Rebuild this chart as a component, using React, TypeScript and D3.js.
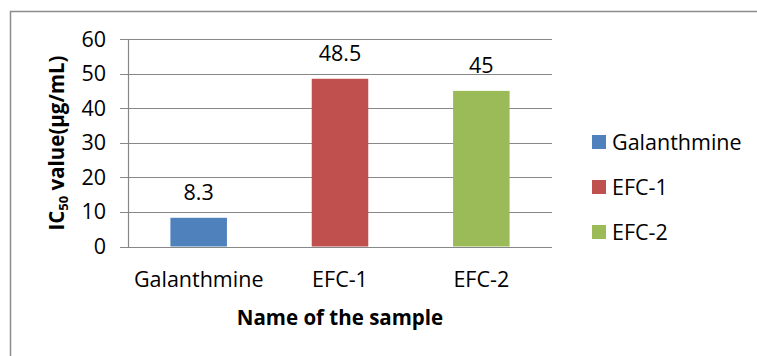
import { useEffect, useRef } from "react";
import * as d3 from "d3";

const categories = ["Galanthmine", "EFC-1", "EFC-2"];
const values = [8.3, 48.5, 45];
const valueLabels = ["8.3", "48.5", "45"];
const colors = ["#4F81BD", "#C0504D", "#9BBB59"];
const yTicks = [0, 10, 20, 30, 40, 50, 60];

export default function App() {
  const svgRef = useRef<SVGSVGElement>(null);

  useEffect(() => {
    if (!svgRef.current) return;
    const svg = d3.select(svgRef.current);
    svg.selectAll("*").remove();

    const width = 757;
    const height = 356;
    const font = "'Open Sans', sans-serif";
    const grid = "#878787";
    const fs = 21.5;

    const x = d3
      .scaleBand<string>()
      .domain(categories)
      .range([128, 552])
      .paddingInner(0.6)
      .paddingOuter(0.3);

    const y = d3.scaleLinear().domain([0, 60]).range([246.5, 39]);

    // outer frame (top and left edges visible)
    svg
      .append("path")
      .attr("d", `M10.5,${height} V11.5 H${width}`)
      .attr("fill", "none")
      .attr("stroke", "#8c8c8c")
      .attr("stroke-width", 1.5);

    // gridlines + tick marks
    svg
      .append("g")
      .selectAll("line")
      .data(yTicks)
      .enter()
      .append("line")
      .attr("x1", 120)
      .attr("x2", 552)
      .attr("y1", (d) => Math.round(y(d)) + 0.5)
      .attr("y2", (d) => Math.round(y(d)) + 0.5)
      .attr("stroke", grid)
      .attr("stroke-width", 1.2);

    // y axis line
    svg
      .append("line")
      .attr("x1", 128.5)
      .attr("x2", 128.5)
      .attr("y1", y(60))
      .attr("y2", Math.round(y(0)) + 0.5)
      .attr("stroke", grid)
      .attr("stroke-width", 1.2);

    // y tick labels
    svg
      .append("g")
      .selectAll("text")
      .data(yTicks)
      .enter()
      .append("text")
      .attr("x", 106)
      .attr("y", (d) => y(d) + 7.5)
      .attr("text-anchor", "end")
      .attr("font-family", font)
      .attr("font-size", fs)
      .attr("fill", "#000")
      .text((d) => d);

    // bars
    svg
      .append("g")
      .selectAll("rect")
      .data(values)
      .enter()
      .append("rect")
      .attr("x", (_, i) => x(categories[i])!)
      .attr("width", x.bandwidth())
      .attr("y", (d) => y(d))
      .attr("height", (d) => y(0) - y(d))
      .attr("fill", (_, i) => colors[i]);

    // value labels
    svg
      .append("g")
      .selectAll("text")
      .data(values)
      .enter()
      .append("text")
      .attr("x", (_, i) => x(categories[i])! + x.bandwidth() / 2)
      .attr("y", (d) => y(d) - 18)
      .attr("text-anchor", "middle")
      .attr("font-family", font)
      .attr("font-size", fs)
      .attr("fill", "#000")
      .text((_, i) => valueLabels[i]);

    // x tick labels
    svg
      .append("g")
      .selectAll("text")
      .data(categories)
      .enter()
      .append("text")
      .attr("x", (d) => x(d)! + x.bandwidth() / 2)
      .attr("y", 287)
      .attr("text-anchor", "middle")
      .attr("font-family", font)
      .attr("font-size", fs)
      .attr("fill", "#000")
      .text((d) => d);

    // x axis title
    svg
      .append("text")
      .attr("x", 340)
      .attr("y", 325)
      .attr("text-anchor", "middle")
      .attr("font-family", font)
      .attr("font-size", 20.5)
      .attr("font-weight", "bold")
      .attr("fill", "#000")
      .text("Name of the sample");

    // y axis title
    const yt = svg
      .append("text")
      .attr("transform", "translate(64,143) rotate(-90)")
      .attr("text-anchor", "middle")
      .attr("font-family", font)
      .attr("font-size", 20.5)
      .attr("font-weight", "bold")
      .attr("fill", "#000");
    yt.append("tspan").text("IC");
    yt.append("tspan").attr("font-size", 13).attr("dy", 4).text("50");
    yt.append("tspan").attr("dy", -4).text(" value(µg/mL)");

    // legend
    const legend = svg
      .append("g")
      .selectAll("g")
      .data(categories)
      .enter()
      .append("g")
      .attr("transform", (_, i) => `translate(592,${142 + i * 45})`);
    legend
      .append("rect")
      .attr("x", 0)
      .attr("y", -7)
      .attr("width", 14)
      .attr("height", 14)
      .attr("fill", (_, i) => colors[i]);
    legend
      .append("text")
      .attr("x", 20)
      .attr("y", 7.5)
      .attr("font-family", font)
      .attr("font-size", fs)
      .attr("fill", "#000")
      .text((d) => d);
  }, []);

  return (
    <svg
      ref={svgRef}
      width={757}
      height={356}
      style={{ position: "absolute", left: 0, top: 0, background: "#fff" }}
    />
  );
}
